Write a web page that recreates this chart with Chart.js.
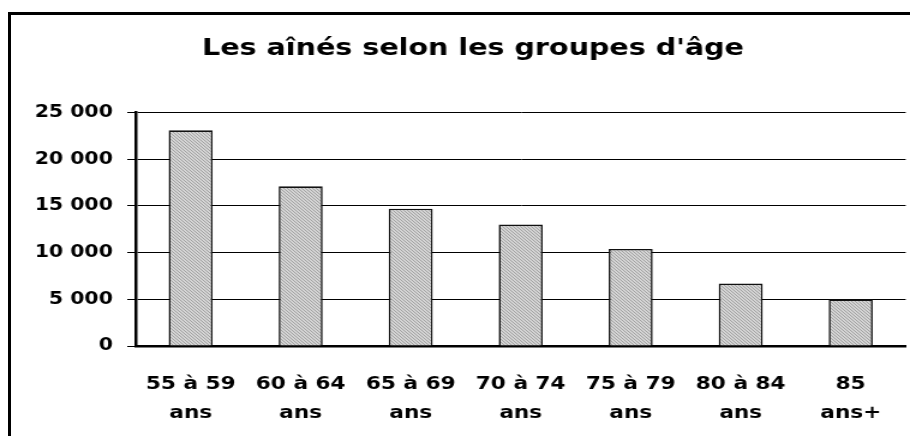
<!DOCTYPE html>
<html>
<head>
<meta charset="utf-8">
<script src="https://cdn.jsdelivr.net/npm/chart.js@4"></script>
<style>
  html, body { margin: 0; padding: 0; background: #fff; overflow: hidden; }
  #wrap { position: relative; width: 910px; height: 436px; }
  /* the source picture is stretched sideways, so the canvas is too */
  #stretch { position: absolute; left: 0; top: 0; width: 758px; height: 436px;
             transform: scaleX(1.2005); transform-origin: 0 0; }
  #frame { position: absolute; left: 8px; top: 12px; width: 1000px; height: 1000px;
           border-left: 3px solid #000; border-top: 3px solid #000; pointer-events: none; }
</style>
</head>
<body>
<div id="wrap">
  <div id="stretch"><canvas id="myChart" width="758" height="436"></canvas></div>
  <div id="frame"></div>
</div>
<script>
const chartTitle = "Les aînés selon les groupes d'âge";
const ageGroups = [
    ['55 à 59', 'ans'],
    ['60 à 64', 'ans'],
    ['65 à 69', 'ans'],
    ['70 à 74', 'ans'],
    ['75 à 79', 'ans'],
    ['80 à 84', 'ans'],
    ['85', 'ans+']
];
const seniors = [23100, 17100, 14700, 13000, 10400, 6700, 5000];
const yTicks = [0, 5000, 10000, 15000, 20000, 25000];

// fine grey hatch like the old spreadsheet fill
const makeHatch = () => {
    const c = document.createElement('canvas');
    c.width = 3;
    c.height = 3;
    const g = c.getContext('2d');
    g.fillStyle = '#d4d4d4';
    g.fillRect(0, 0, 3, 3);
    g.fillStyle = '#a2a2a2';
    for (let i = 0; i < 3; i++) {
        g.fillRect(i, i, 1, 1);
    }
    return g.createPattern(c, 'repeat');
};

const fmt = (v) => String(v).replace(/\B(?=(\d{3})+(?!\d))/g, ' ');

const ctx = document.getElementById('myChart').getContext('2d');

const data = {
    labels: ageGroups,
    datasets: [{
        data: seniors,
        backgroundColor: makeHatch(),
        borderColor: '#111',
        borderWidth: 1.6,
        barPercentage: 0.8,
        categoryPercentage: 0.5
    }]
};

const chart = new Chart(ctx, {
    type: 'bar',
    data: data,
    options: {
        responsive: false,
        animation: false,
        devicePixelRatio: 1,
        // left padding only moves the title centre; the y axis width makes up for it
        layout: { padding: { left: 30, right: 0, top: 0, bottom: 0 } },
        plugins: {
            legend: { display: false },
            tooltip: { enabled: false },
            title: {
                display: true,
                text: chartTitle,
                color: '#000',
                font: { family: 'DejaVu Sans', size: 23.8, weight: 'bold' },
                padding: { top: 35, bottom: 49 }
            }
        },
        scales: {
            x: {
                grid: { display: false, drawTicks: false },
                border: { display: true, color: '#000', width: 2.5 },
                ticks: {
                    color: '#000',
                    padding: 24,
                    maxRotation: 0,
                    autoSkip: false,
                    font: { family: 'DejaVu Sans', size: 18, weight: 'bold', lineHeight: 1.6 }
                },
                afterFit: (s) => { s.height = 90; }
            },
            y: {
                min: 0,
                max: 25000,
                afterBuildTicks: (s) => { s.ticks = yTicks.map(v => ({ value: v })); },
                grid: { color: '#000', lineWidth: 1, tickLength: 7 },
                border: { display: true, color: '#000', width: 2.5 },
                ticks: {
                    color: '#000',
                    padding: 12,
                    font: { family: 'DejaVu Sans', size: 17, weight: 'bold' },
                    callback: (value) => fmt(value)
                },
                afterFit: (s) => { s.width = 83; }
            }
        }
    }
});
</script>
</body>
</html>
